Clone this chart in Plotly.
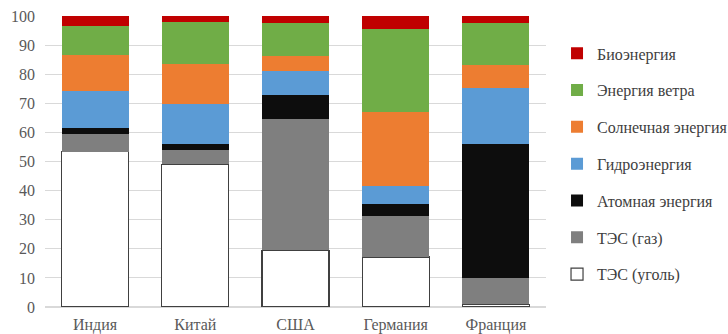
import plotly.graph_objects as go

countries = ["Индия", "Китай", "США", "Германия", "Франция"]

coal = [53.4, 49.1, 19.5, 17.2, 0.9]
gas = [6.0, 4.7, 45.2, 14.1, 9.2]
nuclear = [2.0, 2.3, 8.2, 4.2, 45.8]
hydro = [13.0, 13.8, 8.2, 6.2, 19.2]
solar = [12.2, 13.6, 5.3, 25.3, 8.2]
wind = [10.1, 14.5, 11.1, 28.6, 14.4]
bio = [3.3, 2.0, 2.5, 4.4, 2.3]

series = [
    ("ТЭС (уголь)", coal, "#FFFFFF"),
    ("ТЭС (газ)", gas, "#7F7F7F"),
    ("Атомная энергия", nuclear, "#0D0D0D"),
    ("Гидроэнергия", hydro, "#5B9BD5"),
    ("Солнечная энергия", solar, "#ED7D31"),
    ("Энергия ветра", wind, "#70AD47"),
    ("Биоэнергия", bio, "#C00000"),
]

fig = go.Figure()
n = len(series)
for i, (name, vals, color) in enumerate(series):
    outline = dict(color="#404040", width=1.2) if color == "#FFFFFF" else dict(width=0)
    fig.add_trace(go.Bar(
        x=countries, y=vals, name=name, legendgroup=name,
        legendrank=n - i,
        marker=dict(color=color, line=outline),
    ))

font = "Liberation Serif"
fig.update_layout(
    barmode="stack",
    bargap=0.33,
    width=728, height=334,
    margin=dict(l=45, r=182, t=16, b=27, autoexpand=False),
    paper_bgcolor="white", plot_bgcolor="white",
    font=dict(family=font, size=16, color="#595959"),
    legend=dict(
        traceorder="grouped", tracegroupgap=13,
        x=1.022, y=0.93, xanchor="left", yanchor="top",
        font=dict(size=16, color="#404040"),
        itemwidth=30,
    ),
    xaxis=dict(showline=False, ticks="", ticklabelstandoff=6),
    yaxis=dict(range=[0, 100], dtick=10, showgrid=True, gridcolor="#D9D9D9",
               gridwidth=1, zeroline=True, zerolinecolor="#D9D9D9",
               showline=False, ticks="", ticklabelstandoff=9),
)

fig.write_html("out.html")
